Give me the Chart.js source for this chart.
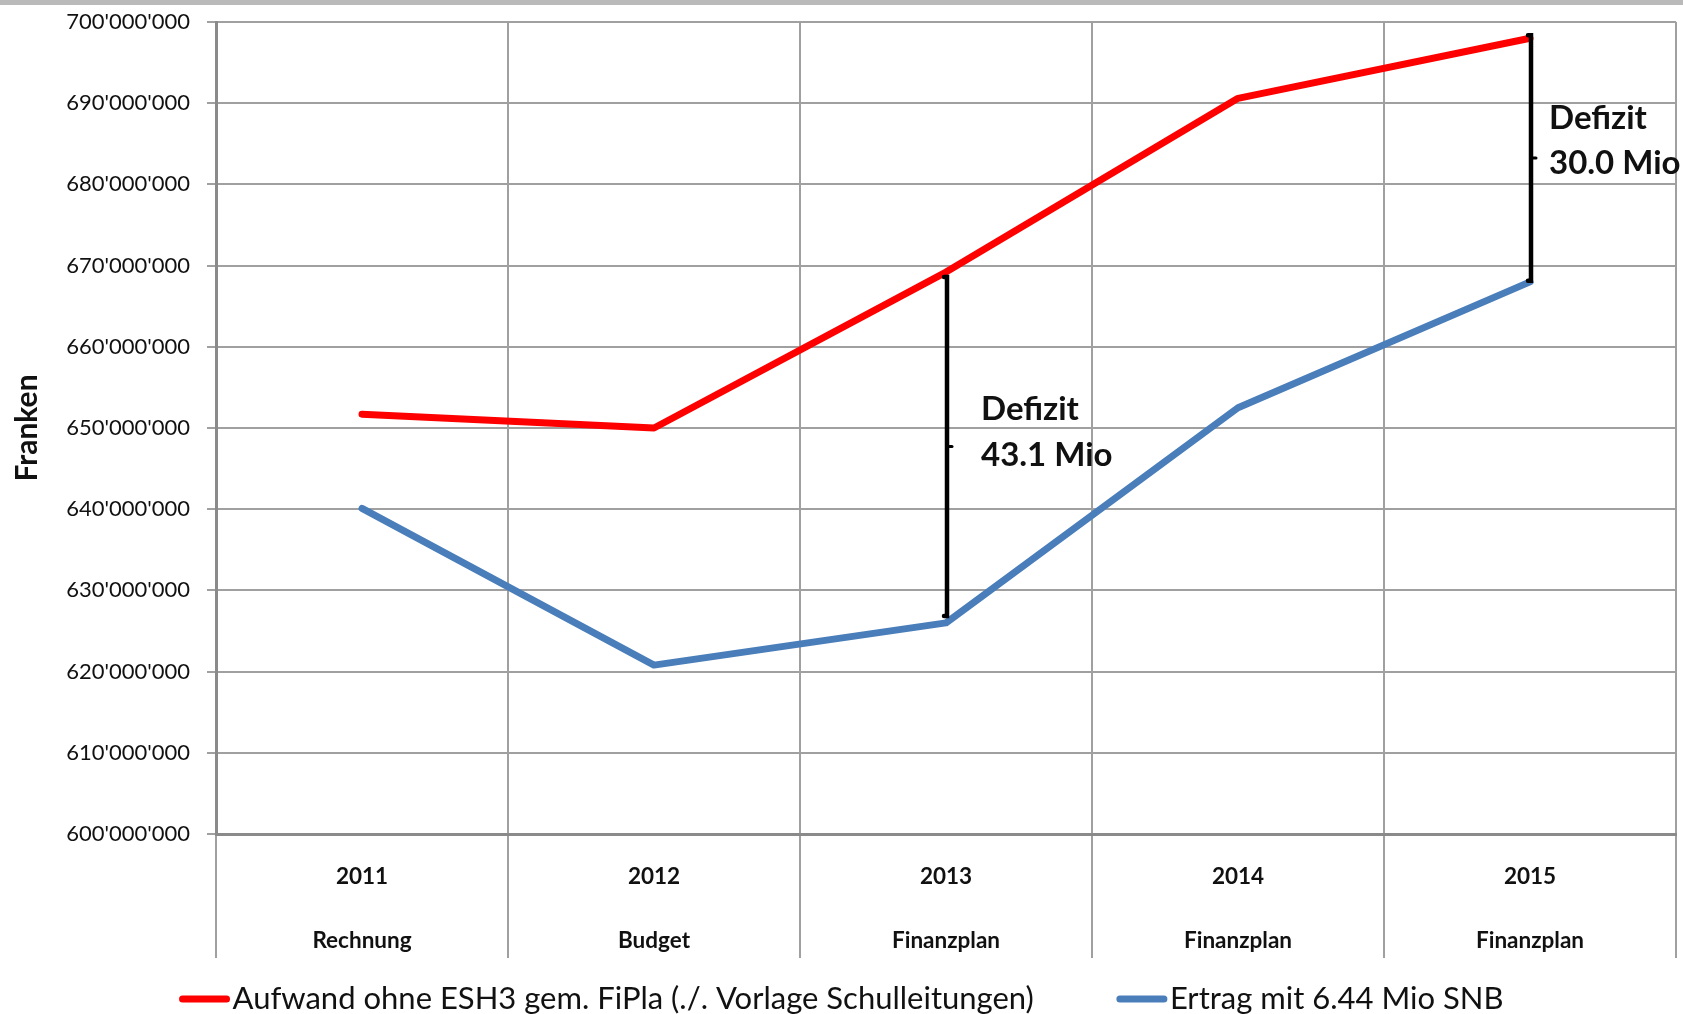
<!DOCTYPE html>
<html><head><meta charset="utf-8">
<script src="https://cdn.jsdelivr.net/npm/chart.js@4.4.1/dist/chart.umd.min.js"></script>
<style>html,body{margin:0;padding:0;background:#fff;overflow:hidden}canvas{display:block}</style>
</head><body>
<canvas id="c" width="1683" height="1014"></canvas>
<script>
// ---- data ----
const years = ['2011', '2012', '2013', '2014', '2015'];
const phases = ['Rechnung', 'Budget', 'Finanzplan', 'Finanzplan', 'Finanzplan'];
const aufwand = [651.7e6, 650.0e6, 669.2e6, 690.6e6, 698.0e6];
const ertrag = [640.1e6, 620.8e6, 626.0e6, 652.5e6, 668.0e6];
const seriesNames = ['Aufwand ohne ESH3 gem. FiPla (./. Vorlage Schulleitungen)', 'Ertrag mit 6.44 Mio SNB'];
const yMin = 600e6, yMax = 700e6, yStep = 10e6;
const deficitIndex = [2, 4];
const deficitText = [['Defizit', '43.1 Mio'], ['Defizit', '30.0 Mio']];

// ---- styles ----
const colors = ['#ff0000', '#4a7ebb'];
const deficitStyle = [
  {dx: 34, dy: [-37, 9], insetTop: 5, insetBottom: 7},
  {dx: 18, dy: [-40, 5], insetTop: -3, insetBottom: 1}
];

function fmt(v) {
  return String(Math.round(v)).replace(/\B(?=(\d{3})+(?!\d))/g, "'");
}

const overlay = {
  id: 'overlay',
  afterDatasetsDraw(chart) {
    const ctx = chart.ctx, xs = chart.scales.x, ys = chart.scales.y;
    ctx.save();
    deficitIndex.forEach((idx, k) => {
      const st = deficitStyle[k];
      const x = xs.getPixelForValue(idx) + 1;
      const yt = ys.getPixelForValue(aufwand[idx]) + st.insetTop;
      const yb = ys.getPixelForValue(ertrag[idx]) - st.insetBottom;
      const ym = (yt + yb) / 2;
      ctx.strokeStyle = '#000';
      ctx.lineCap = 'round';
      ctx.lineWidth = 4.5;
      ctx.beginPath();
      ctx.moveTo(x - 3, yt); ctx.lineTo(x, yt); ctx.lineTo(x, yb); ctx.lineTo(x - 3, yb);
      ctx.stroke();
      ctx.lineWidth = 3;
      ctx.beginPath(); ctx.moveTo(x, ym); ctx.lineTo(x + 5, ym); ctx.stroke();
      ctx.fillStyle = '#111';
      ctx.font = 'bold 33px Lato';
      ctx.textAlign = 'left';
      ctx.textBaseline = 'middle';
      deficitText[k].forEach((t, j) => ctx.fillText(t, x + st.dx, ym + st.dy[j]));
    });
    ctx.restore();
  },
  afterDraw(chart) {
    const ctx = chart.ctx, W = chart.width;
    ctx.save();
    ctx.fillStyle = '#bababa';
    ctx.fillRect(0, 0, W, 5);
    // legend
    ctx.font = '31px Lato';
    const sw = 50, gap = 3, itemGap = 83;
    const widths = seriesNames.map(s => ctx.measureText(s).width);
    const total = widths.reduce((a, w) => a + sw + gap + w, 0) + itemGap;
    let x = (W - total) / 2;
    const y = 999;
    seriesNames.forEach((s, i) => {
      ctx.strokeStyle = colors[i];
      ctx.lineWidth = 7;
      ctx.lineCap = 'round';
      ctx.beginPath(); ctx.moveTo(x + 3, y); ctx.lineTo(x + sw - 3, y); ctx.stroke();
      ctx.fillStyle = '#111';
      ctx.textAlign = 'left';
      ctx.textBaseline = 'middle';
      ctx.fillText(s, x + sw + gap, y);
      x += sw + gap + widths[i] + itemGap;
    });
    ctx.restore();
  }
};

new Chart(document.getElementById('c'), {
  type: 'line',
  data: {
    labels: years.map((y, i) => [y, phases[i]]),
    datasets: [
      {label: seriesNames[0], data: aufwand, borderColor: colors[0], backgroundColor: colors[0], borderWidth: 7},
      {label: seriesNames[1], data: ertrag, borderColor: colors[1], backgroundColor: colors[1], borderWidth: 7}
    ]
  },
  options: {
    responsive: false,
    animation: false,
    layout: {padding: {top: 22, right: 7, left: 0, bottom: 0}},
    plugins: {legend: {display: false}, tooltip: {enabled: false}},
    elements: {
      point: {radius: 0, hoverRadius: 0},
      line: {tension: 0, borderCapStyle: 'round', borderJoinStyle: 'round', fill: false}
    },
    scales: {
      x: {
        offset: true,
        grid: {offset: true, color: '#a0a0a0', lineWidth: 2, tickLength: 124},
        border: {color: '#8a8a8a', width: 3},
        ticks: {padding: -113, color: '#111', maxRotation: 0, autoSkip: false,
          font: {family: 'Lato', size: 22.5, weight: 'bold', lineHeight: '64px'}},
        afterFit(s) { s.height = 180; }
      },
      y: {
        min: yMin, max: yMax,
        ticks: {stepSize: yStep, padding: 17, color: '#111', callback: v => fmt(v),
          font: {family: 'Lato', size: 22}},
        grid: {color: '#a0a0a0', lineWidth: 2, tickLength: 9},
        border: {color: '#8a8a8a', width: 3},
        title: {display: true, text: 'Franken', color: '#111',
          font: {family: 'Lato', size: 30, weight: 'bold'}, padding: {top: 9, bottom: 0}},
        afterFit(s) { s.width = 216; s.paddingTop = 0; s.paddingBottom = 0; }
      }
    }
  },
  plugins: [overlay]
});
</script>
</body></html>
